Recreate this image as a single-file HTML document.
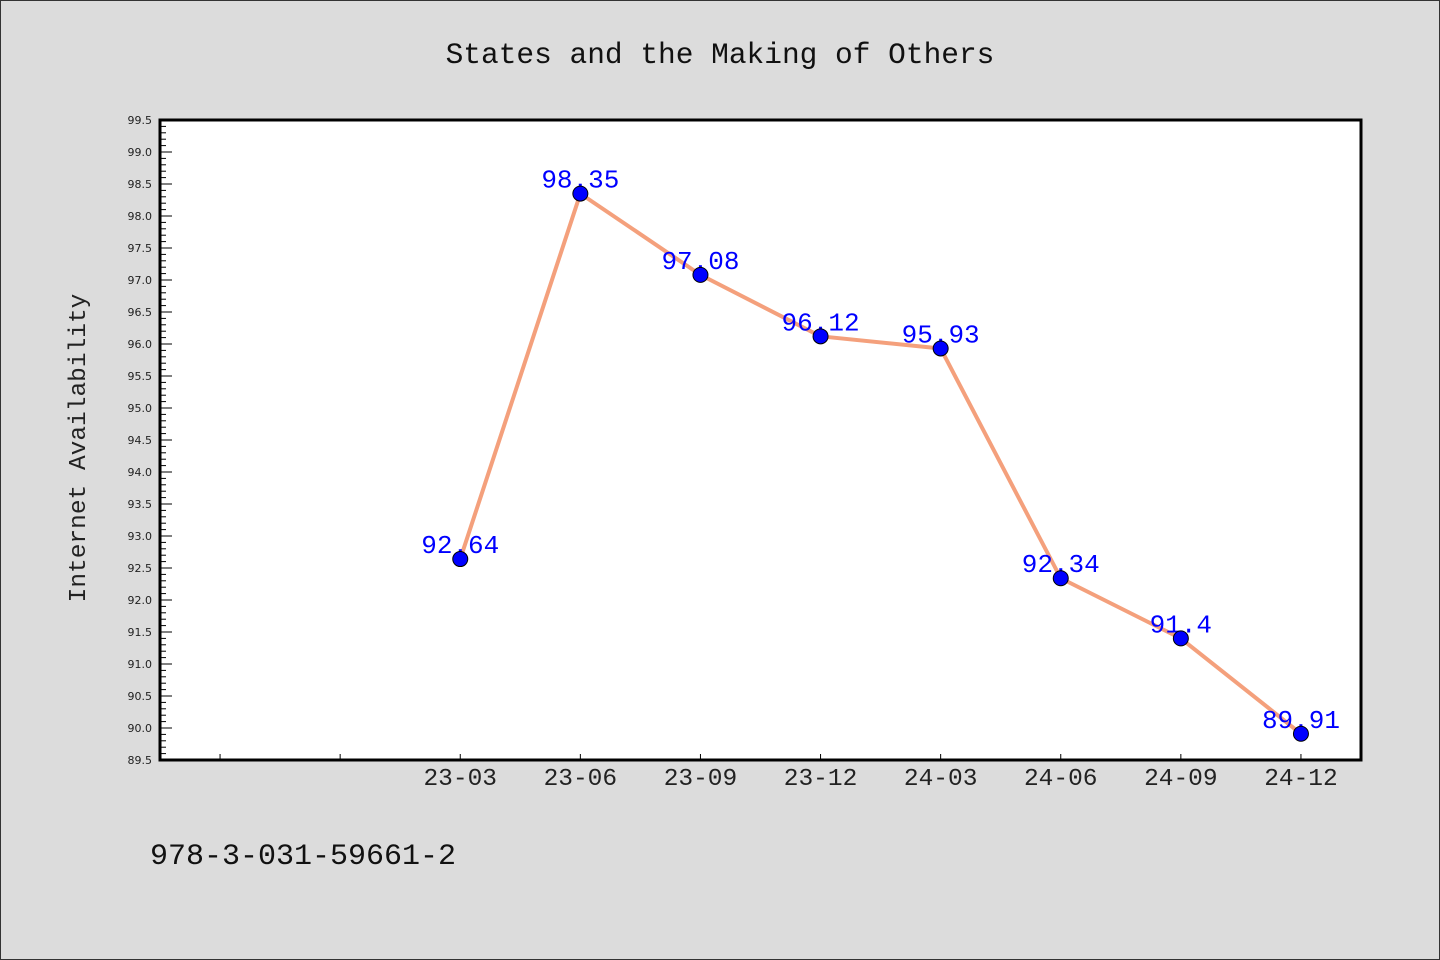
<!DOCTYPE html>
<html><head><meta charset="utf-8"><style>
html,body{margin:0;padding:0;background:#dcdcdc;}
svg{display:block;}
text{font-family:"Liberation Mono","WenQuanYi Zen Hei",monospace;}
</style></head><body>
<svg id="chart" width="1440" height="960" xmlns="http://www.w3.org/2000/svg">
<rect x="0.5" y="0.5" width="1439" height="959" fill="#dcdcdc" stroke="#333" stroke-width="1"/>
<text x="720" y="63" font-size="29.5" text-anchor="middle" fill="#111">States and the Making of Others</text>
<rect x="160" y="120" width="1201" height="640" fill="#fff"/>
<g id="yticks"></g><g id="xticks"></g>
<rect x="160" y="120" width="1201" height="640" fill="none" stroke="#000" stroke-width="3"/>
<text transform="translate(85,448) rotate(-90)" font-size="24.5" text-anchor="middle" fill="#222">Internet Availability</text>
<g id="series"></g>
<text x="150" y="864" font-size="30" fill="#111">978-3-031-59661-2</text>
</svg>
<script>
const categories = ["", "", "23-03", "23-06", "23-09", "23-12", "24-03", "24-06", "24-09", "24-12"];
const values = [null, null, 92.64, 98.35, 97.08, 96.12, 95.93, 92.34, 91.4, 89.91];
const valueLabels = ["", "", "92.64", "98.35", "97.08", "96.12", "95.93", "92.34", "91.4", "89.91"];
const yMin = 89.5, yMax = 99.5;
const NS = "http://www.w3.org/2000/svg";
const L = 160, T = 120, W = 1201, H = 640;
const xs = i => L + W / categories.length * (i + 0.5);
const ys = v => T + H - (v - yMin) / (yMax - yMin) * H;
function mk(tag, attrs, parent) { const e = document.createElementNS(NS, tag); for (const k in attrs) e.setAttribute(k, attrs[k]); parent.appendChild(e); return e; }
const yt = document.getElementById('yticks');
for (let k = 0; k <= 100; k++) {
  const v = yMin + k * 0.1, y = ys(v), major = k % 5 === 0;
  const t = mk('line', {x1: L, x2: L + (major ? 12 : 6), y1: y, y2: y, stroke: '#000', 'stroke-width': 1}, yt);
  
  
  if (major) {
    const lb = mk('text', {x: L - 8, y: y + 4, 'font-size': 11, 'text-anchor': 'end', fill: '#222', style: 'font-family:"DejaVu Sans",sans-serif'}, yt);
    lb.textContent = v.toFixed(1);
    
    
  }
}
const xt = document.getElementById('xticks');
categories.forEach((c, i) => {
  const x = xs(i);
  const t = mk('line', {x1: x, x2: x, y1: T + H, y2: T + H - 6, stroke: '#000', 'stroke-width': 1}, xt);
  
  
  if (c) {
    const lb = mk('text', {x: x, y: T + H + 25, 'font-size': 24.5, 'text-anchor': 'middle', fill: '#222'}, xt);
    lb.textContent = c;
    
    
  }
});
const sg = document.getElementById('series');
const pts = values.map((v, i) => v == null ? null : [xs(i), ys(v)]).filter(p => p);
const line = mk('polyline', {points: pts.map(p => p.join(',')).join(' '), fill: 'none', stroke: '#f4a07c', 'stroke-width': 4, 'stroke-linejoin': 'round'}, sg);


values.forEach((v, i) => {
  if (v == null) return;
  const lb = mk('text', {x: xs(i), y: ys(v) - 6, 'font-size': 26, 'text-anchor': 'middle', fill: '#0000ff'}, sg);
  lb.textContent = valueLabels[i];
  
  
});
values.forEach((v, i) => {
  if (v == null) return;
  const c = mk('circle', {cx: xs(i), cy: ys(v), r: 7.5, fill: '#0000ff', stroke: '#000', 'stroke-width': 1}, sg);
  
  
});
</script>
</body></html>
